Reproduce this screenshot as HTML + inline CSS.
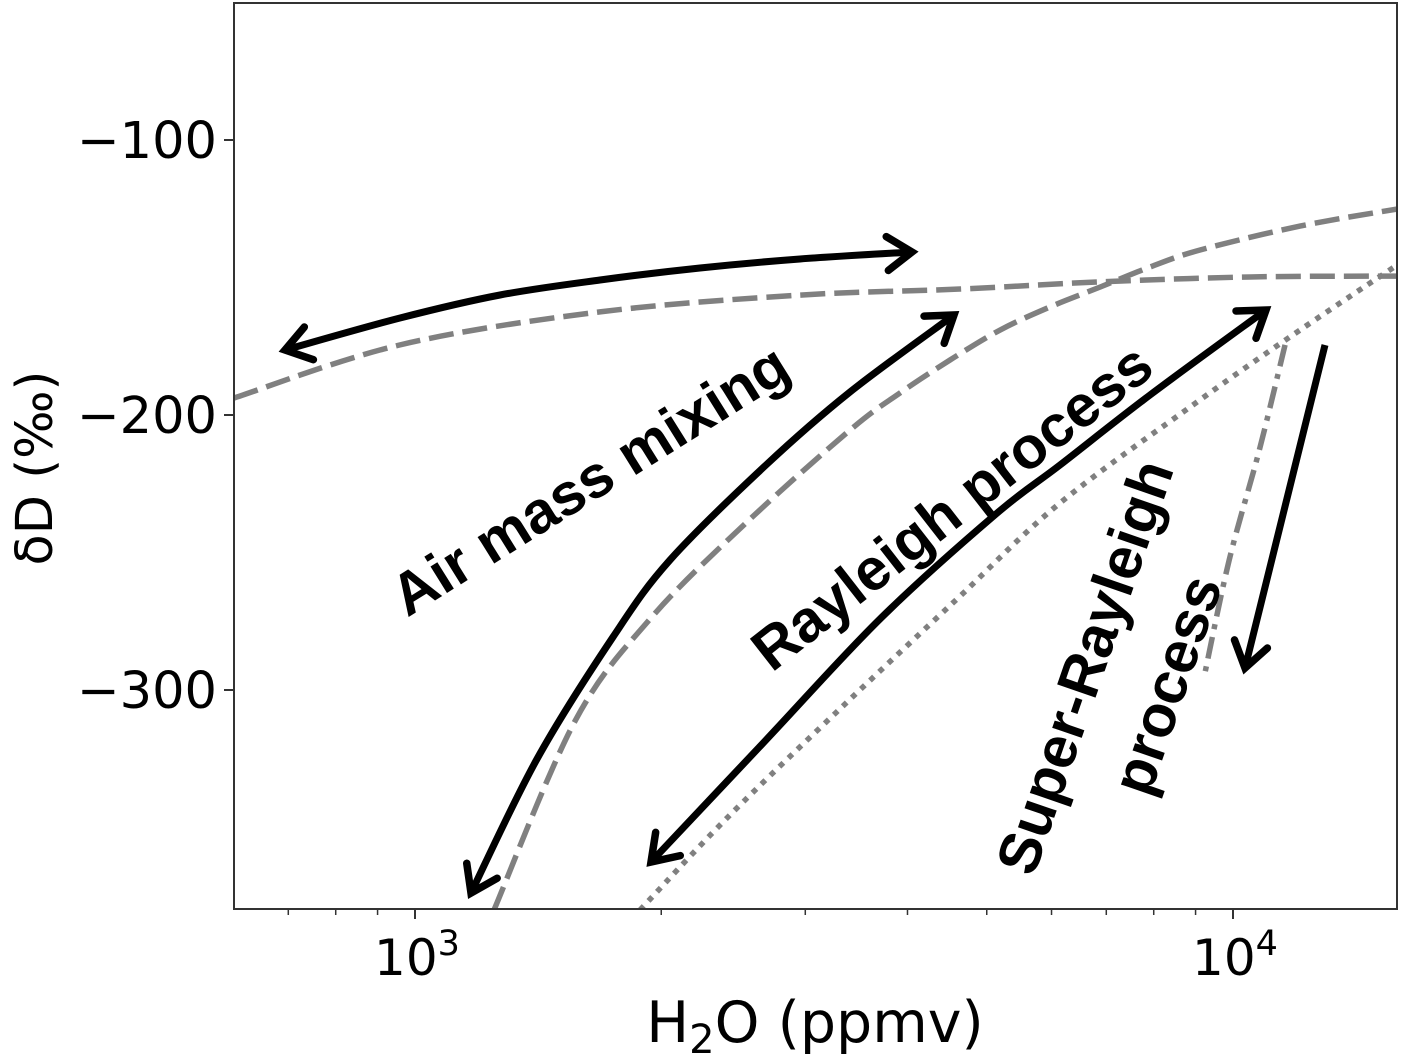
<!DOCTYPE html>
<html><head><meta charset="utf-8"><style>
html,body{margin:0;padding:0;background:#fff;}
svg{display:block;font-family:"DejaVu Sans","Liberation Sans",sans-serif;}
</style></head><body>
<svg id="chart" width="1401" height="1058" viewBox="0 0 1401 1058" xmlns="http://www.w3.org/2000/svg">
<defs></defs>
<g id="plot"></g>
</svg>
<script>
// data arrays (H2O ppmv, δD permil)
const mixFlatX=[601,959,1683,2955,4637,6870,10485,15869];
const mixFlatY=[-193.8,-174.5,-162.5,-156.4,-154.2,-151.6,-149.8,-149.5];
const mixCurveX=[1249,1569,1943,2546,3402,3916,4509,5191,5975,6876,7915,9115,12077,15869];
const mixCurveY=[-380,-311.3,-273.8,-238.9,-205.5,-192,-180,-169.1,-160.7,-153.5,-146.2,-140,-131.3,-125.1];
const rayX=[1884,2413,3336,4599,6145,9115,12077,15869];
const rayY=[-380,-346.2,-305.8,-266.9,-232,-194.5,-169.1,-145.5];
const superX=[11578,10770,9894,9230];
const superY=[-174.5,-212.7,-252.7,-294.5];
const yTicks=[-100,-200,-300];
const yTickLabels=["\u2212100","\u2212200","\u2212300"];
const xTicks=[1000,10000];
const xTickExp=["3","4"];

const X0=234,X1=1397,Y0=3,Y1=909;
const xDecade=818, x1000=415;
function sx(v){return x1000+(Math.log10(v)-3)*xDecade;}
function sy(v){return 140+(-100-v)*2.75;}

const NS="http://www.w3.org/2000/svg";
const g=document.getElementById('plot');
function mk(tag,attrs,parent){const e=document.createElementNS(NS,tag);for(const k in attrs)e.setAttribute(k,attrs[k]);(parent||g).appendChild(e);return e;}

const defs=document.querySelector('defs');
const cp=mk('clipPath',{id:'clip'},defs);
mk('rect',{x:X0,y:Y0,width:X1-X0,height:Y1-Y0},cp);

function smooth(pts){
  let d='M'+pts[0][0]+','+pts[0][1];
  for(let i=0;i<pts.length-1;i++){
    const p0=pts[Math.max(0,i-1)],p1=pts[i],p2=pts[i+1],p3=pts[Math.min(pts.length-1,i+2)];
    const c1=[p1[0]+(p2[0]-p0[0])/6,p1[1]+(p2[1]-p0[1])/6];
    const c2=[p2[0]-(p3[0]-p1[0])/6,p2[1]-(p3[1]-p1[1])/6];
    d+=' C'+c1[0]+','+c1[1]+' '+c2[0]+','+c2[1]+' '+p2[0]+','+p2[1];
  }
  return d;
}
function series(xs,ys,dash,name){
  const pts=xs.map((v,i)=>[sx(v),sy(ys[i])]);
  const p=mk('path',{d:smooth(pts),fill:'none',stroke:'#808080','stroke-width':5.5,'stroke-dasharray':dash,'clip-path':'url(#clip)'});
  
  
}
series(mixFlatX,mixFlatY,'25 9','mixing-line-flat');
series(mixCurveX,mixCurveY,'25 9','mixing-line-curve');
series(rayX,rayY,'5.5 7','rayleigh-line');
series(superX,superY,'22 8 5 8','super-rayleigh-line');

function arrowHead(x,y,ang){
  const L=30,W=0.6;
  const a1=ang+Math.PI-W,a2=ang+Math.PI+W;
  const p=mk('path',{d:`M${x+L*Math.cos(a1)},${y+L*Math.sin(a1)} L${x},${y} L${x+L*Math.cos(a2)},${y+L*Math.sin(a2)}`,fill:'none',stroke:'#000','stroke-width':7.5,'stroke-linecap':'round','stroke-linejoin':'miter'});
  
  
}
function arrow(pts,both,name){
  const p=mk('path',{d:smooth(pts),fill:'none',stroke:'#000','stroke-width':7,'stroke-linecap':'butt'});
  
  
  const n=pts.length;
  arrowHead(pts[n-1][0],pts[n-1][1],Math.atan2(pts[n-1][1]-pts[n-2][1],pts[n-1][0]-pts[n-2][0]));
  if(both)arrowHead(pts[0][0],pts[0][1],Math.atan2(pts[0][1]-pts[1][1],pts[0][0]-pts[1][0]));
}
arrow([[285,350],[400,318],[500,295],[600,280],[700,268],[800,259],[912,252]],true,'mixing-arrow-top');
arrow([[471,893],[537,759],[613,637],[670,560],[766,465],[850,392],[954,315]],true,'mixing-arrow-diagonal');
arrow([[651,862],[766,740],[881,618],[996,514],[1060,465],[1150,395],[1266,310]],true,'rayleigh-arrow');
arrow([[1325,345],[1245,668]],false,'super-rayleigh-arrow');

const fr=mk('rect',{x:X0,y:Y0,width:X1-X0,height:Y1-Y0,fill:'none',stroke:'#333','stroke-width':2});


yTicks.forEach((v,i)=>{
  const y=sy(v);
  const t=mk('line',{x1:X0-10,x2:X0,y1:y,y2:y,stroke:'#333','stroke-width':2});
  
  const tx=mk('text',{x:X0-17,y:y+18,'font-size':51,'text-anchor':'end',fill:'#000'});
  tx.textContent=yTickLabels[i];
  
});
xTicks.forEach((v,i)=>{
  const x=sx(v);
  const t=mk('line',{x1:x,x2:x,y1:Y1,y2:Y1+10,stroke:'#333','stroke-width':2});
  
  const tx=mk('text',{x:x+2,y:975,'font-size':50,'text-anchor':'middle',fill:'#000'});
  tx.textContent='10';
  const sp=mk('tspan',{dy:-20,'font-size':35},tx);sp.textContent=xTickExp[i];
  
});
for(let d=100;d<=10000;d*=10){for(let k=2;k<=9;k++){const v=k*d;const x=sx(v);if(x>X0&&x<X1){
  const t=mk('line',{x1:x,x2:x,y1:Y1,y2:Y1+6,stroke:'#333','stroke-width':1.5});
  }}}

function txt(s,attrs,name){const t=mk('text',attrs);t.textContent=s;return t;}
const xt=mk('text',{x:815,y:1042,'font-size':57,'text-anchor':'middle',fill:'#000'});

xt.appendChild(document.createTextNode('H'));
const sub=mk('tspan',{dy:11,'font-size':40},xt);sub.textContent='2';
const rest=mk('tspan',{dy:-11},xt);rest.textContent='O (ppmv)';
txt('\u03b4D (\u2030)',{x:0,y:0,'font-size':51,'text-anchor':'middle',fill:'#000',transform:'translate(52,468) rotate(-90)'},'y-axis-title');

const A={'font-size':59,'font-weight':'bold','text-anchor':'middle','dominant-baseline':'central',fill:'#000','font-family':'"Liberation Sans",sans-serif'};
function ann(s,tr,name){txt(s,Object.assign({x:0,y:0,transform:tr},A),name);}
ann('Air mass mixing','translate(590,480) rotate(-32)','label-air-mass-mixing');
ann('Rayleigh process','translate(952,507) rotate(-38)','label-rayleigh-process');
ann('Super-Rayleigh','translate(1085,667) rotate(-71)','label-super-rayleigh');
ann('process','translate(1167,685) rotate(-71)','label-super-rayleigh-process');
</script>
</body></html>
